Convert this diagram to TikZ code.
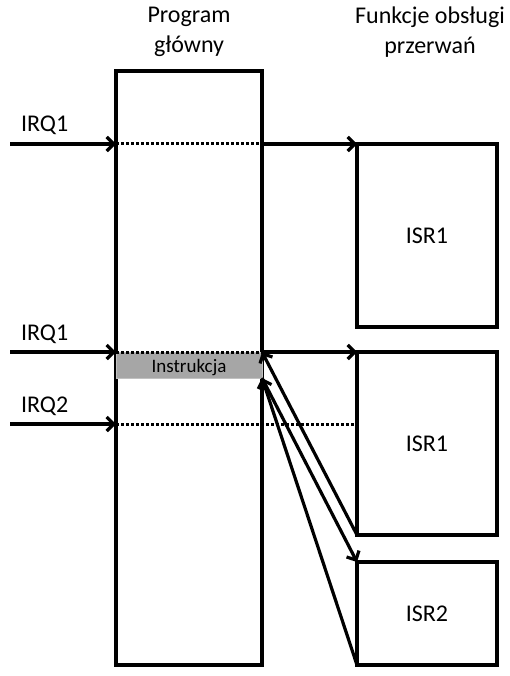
\documentclass[tikz,border=0pt]{standalone}
\usepackage{fontspec}
\setmainfont{Carlito}
\usetikzlibrary{arrows.meta}
\definecolor{instrgray}{RGB}{166,166,166}

\begin{document}
\begin{tikzpicture}[x=1pt,y=-1pt,inner sep=0pt,outer sep=0pt,line width=3.2pt,
>={Straight Barb[length=7pt,width=14pt]},
lbl/.style={font=\fontsize{24}{30}\selectfont},
isrblock/.style={draw,rectangle,minimum width=140pt,lbl},
dotline/.style={line width=3pt,dash pattern=on 3pt off 2pt}]

\useasboundingbox (0,0) rectangle (509,676);

\draw (189,368) node[draw,rectangle,minimum width=146pt,minimum height=594pt] (main) {};
\draw (427,235.5) node[isrblock,minimum height=183pt] (isra) {ISR1};
\draw (427,443.5) node[isrblock,minimum height=183pt] (isrb) {ISR1};
\draw (427,613.5) node[isrblock,minimum height=103pt] (isrc) {ISR2};
\draw (189,365) node[fill=instrgray,draw=instrgray!70,line width=1pt,minimum width=146pt,minimum height=26pt,text height=15pt,text depth=0pt,font=\fontsize{19}{23}\selectfont] (instr) {Instrukcja};

\draw (189,7) node[lbl,align=center,anchor=north] (prog) {Program\\główny};
\draw (430,7) node[lbl,align=center,anchor=north] (func) {Funkcje obsługi\\przerwań};

\draw (10,144) coordinate (irqa);
\draw (10,352) coordinate (irqb);
\draw (10,424) coordinate (irqc);
\draw (irqa) ++(11,-12) node[lbl,anchor=base west] {IRQ1};
\draw (irqb) ++(11,-12) node[lbl,anchor=base west] {IRQ1};
\draw (irqc) ++(11,-12) node[lbl,anchor=base west] {IRQ2};

\draw[->] (irqa) -- (irqa -| main.west);
\draw[dotline] (irqa -| main.west) -- (irqa -| main.east);
\draw[->] (irqa -| main.east) -- (isra.north west);

\draw[->] (irqb) -- (instr.north west);
\draw[dotline] (instr.north west) -- (instr.north east);
\draw[->] (instr.north east) -- (isrb.north west);

\draw[->] (irqc) -- (irqc -| main.west);
\draw[dotline] (irqc -| main.west) -- (irqc -| isrb.west);

\draw[->] (isrb.south west) -- (instr.north east);
\draw[->] (instr.south east) -- (isrc.north west);
\draw[->] (isrc.south west) -- (instr.south east);

\end{tikzpicture}
\end{document}
